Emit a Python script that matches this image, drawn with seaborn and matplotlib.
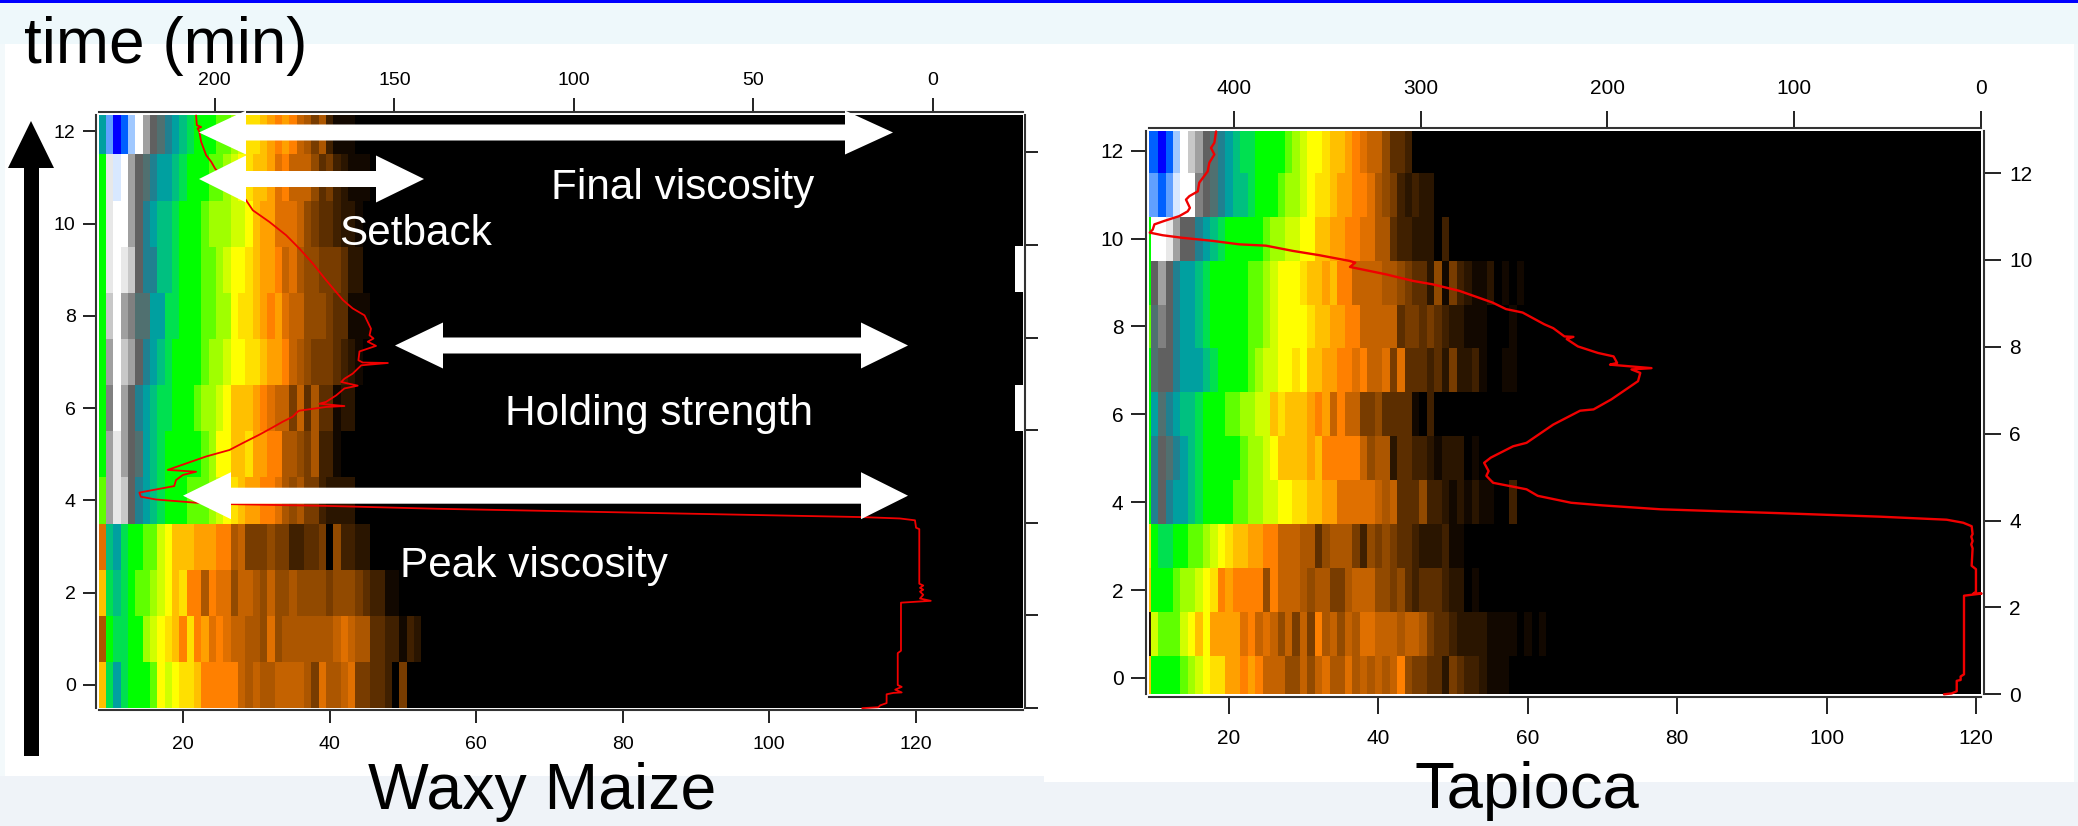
import numpy as np
import pandas as pd
import seaborn as sns
import matplotlib
matplotlib.use("Agg")
import matplotlib.pyplot as plt
from matplotlib.colors import ListedColormap
from matplotlib.patches import Polygon, Rectangle

sns.set_theme(style="ticks")
plt.rcParams["font.family"] = ["Liberation Sans", "DejaVu Sans"]

W, H = 2078, 826

# ---- colour table, index = intensity level ----
level_colors = ["#000000", "#120800", "#2a1500", "#402000", "#5c2e00", "#783c00", "#924a00", "#ac5600",
                "#c46200", "#e07000", "#ff8000", "#ffa000", "#ffc000", "#ffe000", "#ffff00", "#d0ff00",
                "#a0ff00", "#60ff00", "#00ff00", "#00e050", "#00c080", "#00a0a0", "#208090", "#507070",
                "#606060", "#808080", "#a0a0a0", "#c8c8c8", "#e8e8e8", "#ffffff", "#d8e8ff", "#a0c8ff",
                "#60a0ff", "#0060ff", "#0000ff"]

# ---- Waxy Maize heat rows: first value is x = 9, remaining cells are black ----
wm12 = [21,32,34,33,31,29,26,24,23,22,21,20,19,18,18,18,17,17,16,15,13,13,12,11,10,11,10,8,7,5,7,3,1,1,1]
wm11 = [18,28,30,29,26,24,23,22,21,21,20,19,18,18,18,17,17,16,15,14,13,12,12,11,9,10,8,8,8,6,4,5,3,2,1,1,1]
wm10 = [18,28,29,29,26,24,22,21,20,20,19,18,18,18,17,16,16,16,15,15,14,12,11,11,9,9,9,8,6,5,4,4,3,2,2,1]
wm9 = [18,28,29,28,27,24,22,22,20,20,19,18,18,18,17,17,16,15,14,14,13,12,11,11,10,8,9,7,6,6,5,5,5,4,2,2]
wm8 = [18,27,29,26,25,23,23,21,21,19,19,18,18,18,17,17,16,16,14,13,13,12,11,10,11,9,8,8,6,6,6,5,4,4,1,1,1]
wm7 = [18,26,29,27,26,24,22,21,20,19,18,18,18,18,17,16,16,15,14,14,13,13,12,11,11,10,8,7,6,5,5,5,4,3,2,1]
wm6 = [18,25,29,26,24,22,21,20,19,19,18,18,18,17,16,16,15,14,12,12,12,11,10,9,8,8,5,8,4,7,4,4,1,2,2]
wm5 = [18,26,28,26,24,23,21,20,19,18,18,18,18,18,17,16,14,14,12,12,13,11,11,10,10,7,7,6,5,7,3,3,1]
wm4 = [17,26,28,27,24,22,21,20,19,18,18,18,17,17,17,16,15,14,13,12,11,11,10,10,9,7,6,7,5,5,3,2,2,2,2]
wm3 = [9,20,21,19,18,18,17,17,15,14,12,12,12,11,11,11,10,10,7,8,5,5,5,6,5,5,3,3,4,4,5,0,6,3,3,2,2]
wm2 = [12,19,20,19,18,17,17,16,15,14,12,13,10,10,7,10,9,9,6,8,8,7,6,8,6,6,7,6,6,6,6,5,6,6,6,5,4,3,3,1,1]
wm1 = [7,18,19,19,18,18,16,15,14,13,12,10,13,10,11,9,10,9,8,8,7,7,6,9,6,7,7,7,7,7,7,7,8,9,8,7,7,4,4,3,3,1,3,2]
wm0 = [12,19,21,19,18,18,18,17,14,15,14,13,13,12,10,10,10,10,10,8,7,8,7,7,8,8,8,8,7,5,9,7,7,8,9,5,5,4,4,3,0,5]

# ---- Tapioca heat rows: first value is x = 9 ----
ta12 = [33,33,34,33,31,29,27,26,24,23,22,21,20,19,19,18,18,18,18,17,16,15,14,14,13,12,12,11,10,9,8,8,6,4,4,3]
ta11 = [32,32,33,32,30,29,29,25,24,23,22,21,20,20,19,18,18,18,17,16,16,15,14,13,13,12,11,11,10,10,9,7,6,5,3,2,3,2,2]
ta10 = [18,29,29,28,26,24,24,22,21,20,19,18,18,18,18,18,17,16,16,15,15,14,14,12,12,11,11,10,10,9,9,7,7,4,3,3,2,2,2,0,3]
ta9 = [18,24,26,24,22,21,21,20,19,18,18,18,18,18,17,17,16,15,14,14,14,13,12,12,11,12,10,10,8,8,8,8,7,7,6,5,4,4,2,6,1,5,3,2,1,1,2,0,1,0,1]
ta8 = [17,23,25,24,22,21,21,20,19,18,18,18,18,18,17,17,16,15,14,14,14,14,13,12,12,11,11,10,10,8,8,8,8,8,4,5,5,4,5,4,3,2,2,1,1,1,0,0,0,1]
ta7 = [18,23,24,24,22,21,21,21,20,19,18,18,18,18,17,16,15,15,14,14,13,14,12,12,11,11,10,10,9,10,8,8,9,5,9,4,4,4,3,4,2,5,2,2,3,1,0,0,1,1]
ta6 = [18,21,23,22,21,20,20,19,18,18,18,17,17,16,16,15,15,12,13,12,12,12,11,10,11,8,10,8,8,5,5,6,4,4,4,4,1,0,3]
ta5 = [18,22,24,23,22,21,20,19,18,18,18,18,18,17,16,16,15,14,12,12,12,12,11,12,10,10,10,10,10,8,6,7,7,2,4,4,3,3,2,1,2,2,2,0,1]
ta4 = [18,22,24,22,21,21,20,19,18,18,18,18,17,17,16,16,15,15,14,14,13,13,12,12,11,11,9,9,9,9,9,8,7,8,4,4,4,6,3,3,2,1,2,1,2,1,1,0,0,3]
ta3 = [13,18,19,19,18,18,17,17,16,15,14,13,12,12,11,11,10,10,8,8,8,7,7,4,6,7,7,7,5,3,6,5,6,5,4,4,3,2,2,2,3,1,1]
ta2 = [12,18,18,18,17,16,16,15,14,13,10,11,10,10,10,10,6,10,8,8,8,7,6,7,7,5,5,7,8,8,8,6,6,5,6,4,3,4,4,4,3,2,2,0,1]
ta1 = [2,15,17,17,17,15,14,12,14,11,11,11,11,9,10,8,9,8,6,8,5,8,5,10,7,8,6,8,7,9,9,8,8,8,7,8,8,7,5,4,4,3,2,2,2,2,1,1,1,1,0,1,0,1]
ta0 = [12,18,18,18,18,17,16,15,14,13,13,11,11,10,11,10,8,8,8,6,6,8,6,8,9,7,7,9,7,8,7,8,7,8,10,6,5,5,4,4,2,5,4,3,3,2,1,1,1]

wm_rows = [wm12, wm11, wm10, wm9, wm8, wm7, wm6, wm5, wm4, wm3, wm2, wm1, wm0]
ta_rows = [ta12, ta11, ta10, ta9, ta8, ta7, ta6, ta5, ta4, ta3, ta2, ta1, ta0]

# ---- red viscosity traces ----
wm_visc = [205.2,205.0,203.8,204.8,204.3,203.8,202.4,201.0,199.9,191.3,189.4,184.8,180.1,176.4,172.7,169.0,164.3,161.6,
           158.3,156.5,156.9,155.8,157.4,155.1,159.7,160.0,158.8,151.8,159.2,161.6,163.9,164.8,160.2,163.9,166.2,169.0,
           170.9,163.9,169.0,171.8,176.4,176.9,178.3,181.1,184.3,187.6,192.2,195.9,202.4,213.1,205.2,208.9,210.8,211.3,
           221.0,220.6,216.4,205.2,195.9,168.1,138.3,19.9,9.2,5.0,4.7,3.8,3.8,2.7,3.6,2.7,3.6,2.7,3.6,0.6,8.9,8.9,9.8,
           9.8,8.7,10.5,8.7,11.0,12.9,12.9,14.7,15.2,19.7]
wm_time = [12.80,12.59,12.55,12.52,12.45,12.23,11.94,11.80,11.65,10.97,10.75,10.50,10.21,9.92,9.60,9.24,8.81,8.63,
           8.48,8.19,8.05,7.98,7.91,7.82,7.70,7.51,7.46,7.45,7.40,7.22,7.11,7.04,6.96,6.90,6.75,6.61,
           6.57,6.52,6.50,6.47,6.42,6.40,6.29,6.18,6.04,5.90,5.72,5.57,5.43,5.14,5.10,5.03,4.92,4.79,
           4.65,4.56,4.50,4.43,4.40,4.36,4.30,4.12,4.09,4.05,3.89,3.86,2.68,2.64,2.59,2.55,2.51,2.44,2.36,2.31,2.27,1.23,1.18,
           0.49,0.45,0.39,0.33,0.32,0.29,0.10,0.05,0.01,-0.01]
ta_visc = [409.5,410.4,412.2,410.4,413.1,414.0,418.5,419.3,423.8,425.6,423.5,424.7,429.2,437.2,442.5,443.4,445.0,438.1,
           427.4,411.3,397.0,382.8,368.5,354.2,338.2,335.0,337.8,331.0,318.6,304.3,293.6,279.3,261.5,254.3,245.4,233.8,
           229.0,223.0,218.2,221.8,215.8,205.1,196.7,194.8,198.6,176.4,187.1,182.4,183.6,197.9,207.4,214.6,229.0,243.3,
           250.5,262.4,266.0,263.6,264.8,261.2,243.3,237.3,219.4,202.7,171.6,107.6,54.1,18.4,9.5,5.0,4.5,5.2,4.5,5.2,4.5,
           5.0,2.7,2.7,4.1,-0.3,9.1,9.1,10.9,10.9,13.0,13.0,15.7,19.8]
ta_time = [12.96,12.70,12.58,12.43,12.24,12.04,11.78,11.58,11.47,11.39,11.20,11.12,11.01,10.90,10.82,10.70,10.63,10.57,
           10.51,10.44,10.36,10.33,10.21,10.11,9.98,9.94,9.84,9.78,9.67,9.52,9.44,9.29,9.02,8.87,8.79,8.52,
           8.43,8.24,8.23,8.18,8.01,7.86,7.78,7.63,7.59,7.51,7.48,7.40,7.21,6.79,6.56,6.53,6.21,5.79,
           5.71,5.45,5.33,5.14,5.03,4.87,4.72,4.57,4.41,4.35,4.26,4.17,4.09,4.02,3.95,3.87,3.69,3.63,3.53,3.45,3.36,
           2.96,2.88,2.36,2.32,2.32,2.27,0.46,0.41,0.33,0.31,0.07,0.02,0.00]

bottom_ticks_wm = [20, 40, 60, 80, 100, 120]
top_ticks_wm = [200, 150, 100, 50, 0]
bottom_ticks_ta = [20, 40, 60, 80, 100, 120]
top_ticks_ta = [400, 300, 200, 100, 0]
time_ticks = [0, 2, 4, 6, 8, 10, 12]

fig = plt.figure(figsize=(W / 100, H / 100), dpi=100, facecolor="#eff3f8")


def px_axes(l, t, r, b, **kw):
    return fig.add_axes([l / W, 1 - b / H, (r - l) / W, (b - t) / H], **kw)


# page backdrop in pixel coordinates
back = px_axes(0, 0, W, H, zorder=-1)
back.set_xlim(0, W)
back.set_ylim(H, 0)
back.axis("off")
back.add_patch(Rectangle((0, 3), W, 41, color="#eef8fb", lw=0))
back.add_patch(Rectangle((0, 44), 4.5, 732, color="#f3f9fb", lw=0))
back.add_patch(Rectangle((2074, 44), 4, 738, color="#f3f9fb", lw=0))
back.add_patch(Rectangle((0, 0), W, 3.2, color="#0000ff", lw=0))
back.add_patch(Rectangle((4.5, 44), 1040.5, 732, color="white", lw=0))
back.add_patch(Rectangle((1044, 44), 1030, 738, color="white", lw=0))


def panel(rows, ncols, visc, time, box, xlim, ylim, top_xlim, right_ylim, bticks, tticks,
          show_right, lw, lens, pads, fs):
    l, t, r, b = box
    table = np.zeros((13, ncols), dtype=int)
    for i, row in enumerate(rows):
        table[i, :len(row)] = row
    frame = pd.DataFrame(table, index=list(range(12, -1, -1)), columns=[9 + k for k in range(ncols)])

    ax = px_axes(l, t, r, b)
    sns.heatmap(frame, ax=ax, cmap=ListedColormap(level_colors), vmin=-0.5, vmax=34.5, cbar=False,
                xticklabels=False, yticklabels=False)
    # cell i holds x = 9 + i, row j holds t = 12 - j
    ax.set_xlim(xlim[0] - 8.5, xlim[1] - 8.5)
    ax.set_ylim(12.5 - ylim[0], 12.5 - ylim[1])
    ax.set_xticks([v - 8.5 for v in bticks])
    ax.set_xticklabels([str(v) for v in bticks])
    ax.set_yticks([12.5 - v for v in time_ticks])
    ax.set_yticklabels([str(v) for v in time_ticks], rotation=0)
    ax.set_xlabel("")
    ax.set_ylabel("")
    ax.tick_params(axis="x", direction="out", length=lens[0], width=1.4, color="#222222", labelsize=fs,
                   pad=pads[0], labelcolor="black", labelrotation=0, bottom=True)
    ax.tick_params(axis="y", direction="out", length=lens[1], width=1.4, color="#222222", labelsize=fs,
                   pad=pads[1], labelcolor="black", left=True)

    ax2 = px_axes(l, t, r, b, facecolor="none", zorder=3)
    sns.lineplot(x=visc, y=time, ax=ax2, color="#f00000", lw=lw, sort=False, estimator=None, clip_on=False)
    ax2.set_xlim(*top_xlim)
    ax2.set_ylim(*right_ylim)
    ax2.set_xticks(tticks)
    ax2.set_yticks(time_ticks)
    ax2.set_xticklabels([str(v) for v in tticks])
    ax2.set_yticklabels([str(v) for v in time_ticks] if show_right else [])
    ax2.set_xlabel("")
    ax2.set_ylabel("")
    ax2.xaxis.tick_top()
    ax2.yaxis.tick_right()
    ax2.tick_params(axis="x", direction="out", length=lens[2], width=1.4, color="#222222", labelsize=fs,
                    pad=pads[2], labelcolor="black")
    ax2.tick_params(axis="y", direction="out", length=lens[3], width=1.4, color="#222222", labelsize=fs,
                    pad=pads[3], labelcolor="black")

    for a, names in ((ax, ("left", "bottom")), (ax2, ("top", "right"))):
        for s in a.spines.values():
            s.set_visible(False)
        for n in names:
            sp = a.spines[n]
            sp.set_visible(True)
            sp.set_color("#333333")
            sp.set_linewidth(1.5)
            sp.set_position(("outward", 1.9))
    return ax, ax2


panel(wm_rows, 127, wm_visc, wm_time, (98.8, 115, 1022.7, 707.7), (8.5, 134.6), (-0.492, 12.354),
      (232.3, -25.0), (0.0, 12.81), bottom_ticks_wm, top_ticks_wm, False, 1.3,
      (9.7, 9.7, 10, 9.7), (8.5, 5, 7, 5), 14)
panel(ta_rows, 113, ta_visc, ta_time, (1149, 131, 1981, 694.3), (9.29, 120.67), (-0.371, 12.449),
      (445.4, 0), (0.028, 12.97), bottom_ticks_ta, top_ticks_ta, True, 1.7,
      (12.5, 11, 12.2, 12), (10.5, 5.5, 9.5, 6.5), 15)

# annotation layer in pixel coordinates
top = px_axes(0, 0, W, H, zorder=10, facecolor="none")
top.set_xlim(0, W)
top.set_ylim(H, 0)
top.axis("off")


def double_arrow(x0, base0, base1, x1, y, head, shaft):
    pts = [(x0, y), (base0, y - head), (base0, y - shaft), (base1, y - shaft), (base1, y - head), (x1, y),
           (base1, y + head), (base1, y + shaft), (base0, y + shaft), (base0, y + head)]
    top.add_patch(Polygon(pts, closed=True, facecolor="white", edgecolor="none"))


double_arrow(199, 246, 845, 893, 132.5, 22, 8)
double_arrow(199, 246, 376, 424, 179, 23.5, 8)
double_arrow(395, 443, 861, 908, 345.5, 23, 8)
double_arrow(183, 231, 861, 908, 495.7, 23.5, 8)

# black time arrow
top.add_patch(Polygon([(31, 121), (54, 168), (39, 168), (39, 756), (24, 756), (24, 168), (8, 168)],
                      closed=True, facecolor="black", edgecolor="none"))

# white notches on the right edge of the Waxy Maize image
top.add_patch(Rectangle((1015, 246), 7.5, 46, color="white", lw=0))
top.add_patch(Rectangle((1015, 385), 7.5, 46, color="white", lw=0))

top.text(24, 63, "time (min)", fontsize=46, color="black", va="baseline", ha="left")
top.text(368, 809, "Waxy Maize", fontsize=46.4, color="black", va="baseline", ha="left")
top.text(1414, 808, "Tapioca", fontsize=47, color="black", va="baseline", ha="left")
top.text(551, 199, "Final viscosity", fontsize=30.4, color="white", va="baseline", ha="left")
top.text(339, 245, "Setback", fontsize=30.4, color="white", va="baseline", ha="left")
top.text(505, 425, "Holding strength", fontsize=30.4, color="white", va="baseline", ha="left")
top.text(400, 577, "Peak viscosity", fontsize=30.4, color="white", va="baseline", ha="left")

fig.savefig("out.png", dpi=100, facecolor=fig.get_facecolor())
